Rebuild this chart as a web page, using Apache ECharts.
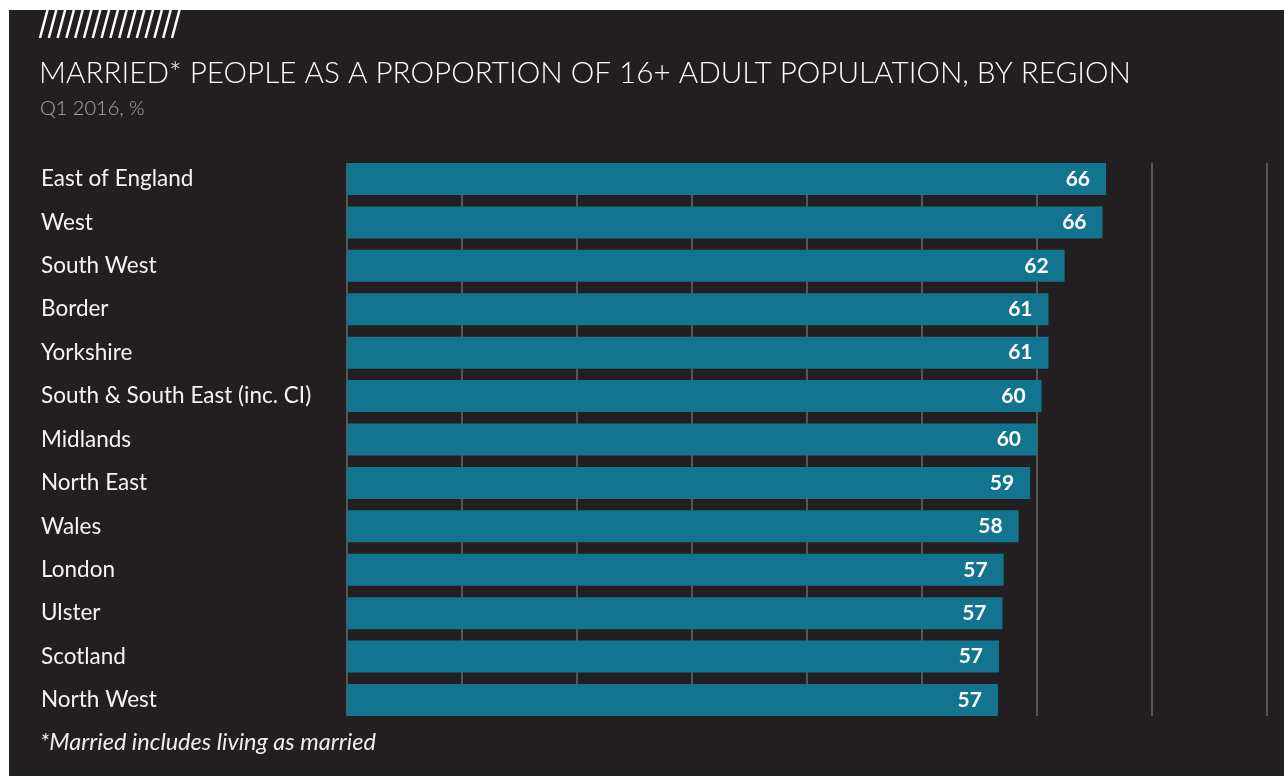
<!DOCTYPE html>
<html>
<head>
<meta charset="utf-8">
<style>
  html, body { margin: 0; padding: 0; background: #ffffff; }
  #chart { width: 1284px; height: 776px; }
</style>
<script src="https://cdn.jsdelivr.net/npm/echarts@6/dist/echarts.min.js"></script>
</head>
<body>
<div id="chart"></div>
<script>
// Regions, top to bottom
const regions = [
  'East of England', 'West', 'South West', 'Border', 'Yorkshire',
  'South & South East (inc. CI)', 'Midlands', 'North East', 'Wales',
  'London', 'Ulster', 'Scotland', 'North West'
];
// Married (incl. living as married) share of the 16+ population, %
const marriedShare = [66.0, 65.7, 62.4, 61.0, 61.0, 60.4, 60.0, 59.4, 58.4, 57.1, 57.0, 56.7, 56.6];

const titleText = 'MARRIED* PEOPLE AS A PROPORTION OF 16+ ADULT POPULATION, BY REGION';
const subtitleText = 'Q1 2016, %';
const footnoteText = '*Married includes living as married';

const FONT = 'Lato, "Open Sans", sans-serif';
const PANEL = '#231f20';
const BAR = '#13748f';
const GRID_LINE = '#6b6869';

// Hatched emblem in the top-left corner
function hatch(x0, x1, y0, y1, step, slant) {
  const lines = [];
  for (let bx = x0; bx < x1; bx += step) {
    let tx = bx + slant, ty = y0;
    if (tx > x1) { ty = y1 - (y1 - y0) * (x1 - bx) / slant; tx = x1; }
    lines.push({
      type: 'line',
      shape: { x1: bx, y1: y1, x2: tx, y2: ty },
      style: { stroke: '#ffffff', lineWidth: 2.5 },
      silent: true
    });
  }
  return lines;
}

const chart = echarts.init(document.getElementById('chart'));

// Bars sit in their own grid, widened by half a gap so the first and last
// bars line up with the ends of the vertical guide lines.
const gridLeft = 347, gridRight = 17, linesTop = 163, linesBottom = 60, halfGap = 5.71;

chart.setOption({
  backgroundColor: '#ffffff',
  animation: false,
  graphic: [
    { type: 'rect', shape: { x: 9, y: 10, width: 1275, height: 766 }, style: { fill: PANEL }, z: -10, silent: true },
    { type: 'group', children: hatch(40, 180, 10, 38, 8.8, 7.5) }
  ],
  title: [
    {
      text: titleText, left: 39, top: 55, padding: 0,
      textStyle: { color: '#ffffff', fontFamily: FONT, fontSize: 29.7, fontWeight: 300, lineHeight: 36 }
    },
    {
      text: subtitleText, left: 40, top: 96, padding: 0,
      textStyle: { color: '#a9a7a8', fontFamily: FONT, fontSize: 20, fontWeight: 300, lineHeight: 26 }
    },
    {
      text: footnoteText, left: 40, top: 729, padding: 0,
      textStyle: { color: '#eeeeee', fontFamily: FONT, fontSize: 23.5, fontWeight: 'normal', fontStyle: 'italic', lineHeight: 26 }
    }
  ],
  grid: [
    { left: gridLeft, right: gridRight, top: linesTop, bottom: linesBottom },
    { left: gridLeft, right: gridRight, top: linesTop - halfGap, bottom: linesBottom - halfGap }
  ],
  xAxis: [
    {
      gridIndex: 0, type: 'value', min: 0, max: 80, interval: 10,
      axisLine: { show: false }, axisTick: { show: false }, axisLabel: { show: false },
      splitLine: { show: true, lineStyle: { color: GRID_LINE, width: 1.5 } }
    },
    {
      gridIndex: 1, type: 'value', min: 0, max: 80, interval: 10, show: false,
      splitLine: { show: false }
    }
  ],
  yAxis: [
    { gridIndex: 0, type: 'value', show: false, splitLine: { show: false } },
    {
      gridIndex: 1, type: 'category', data: regions, inverse: true,
      axisLine: { show: false }, axisTick: { show: false },
      axisLabel: {
        align: 'left', margin: gridLeft - 41, padding: [4, 0, 0, 0],
        color: '#f4f4f4', fontFamily: FONT, fontSize: 22.5
      }
    }
  ],
  series: [
    {
      type: 'bar', xAxisIndex: 1, yAxisIndex: 1,
      data: marriedShare, barWidth: 32,
      itemStyle: { color: BAR },
      label: {
        show: true, position: 'insideRight', distance: 16, padding: [3, 0, 0, 0],
        formatter: p => Math.round(p.value),
        color: '#ffffff', fontFamily: FONT, fontSize: 21, fontWeight: 'bold'
      }
    }
  ]
});
</script>
</body>
</html>
